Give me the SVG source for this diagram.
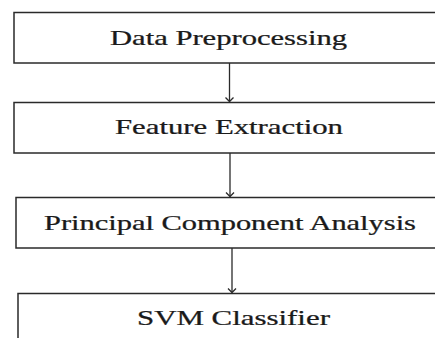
<svg xmlns="http://www.w3.org/2000/svg" width="435" height="338" viewBox="0 0 435 338">
<style>
.box{fill:#fff;stroke:#2a2a2a;stroke-width:1.5}
.lbl{font-family:"Liberation Serif","Times New Roman",serif;font-size:20px;fill:#1a1a1a;stroke:#1a1a1a;stroke-width:0.25}
.con{stroke:#2a2a2a;stroke-width:1.3;fill:none}
</style>
<defs>
<marker id="ah" markerWidth="10" markerHeight="10" refX="5" refY="5" orient="auto" markerUnits="userSpaceOnUse" viewBox="0 0 10 10">
<path d="M1,1 L5,5 L1,9" fill="none" stroke="#2a2a2a" stroke-width="1.3"/>
</marker>
</defs>
<rect width="435" height="338" fill="#fff"/>
<g id="n1"><rect class="box" x="14" y="12.5" width="440" height="50.5"/><text class="lbl" transform="translate(110,45) scale(1.53,1)" textLength="154.9" lengthAdjust="spacingAndGlyphs">Data Preprocessing</text></g>
<g id="n2"><rect class="box" x="14" y="102.5" width="440" height="50.5"/><text class="lbl" transform="translate(115,134) scale(1.53,1)" textLength="149" lengthAdjust="spacingAndGlyphs">Feature Extraction</text></g>
<g id="n3"><rect class="box" x="16" y="197.5" width="440" height="50.5"/><text class="lbl" transform="translate(44,230) scale(1.53,1)" textLength="243.1" lengthAdjust="spacingAndGlyphs">Principal Component Analysis</text></g>
<g id="n4"><rect class="box" x="18" y="293.5" width="440" height="60"/><text class="lbl" transform="translate(137,325) scale(1.53,1)" textLength="126.1" lengthAdjust="spacingAndGlyphs">SVM Classifier</text></g>
<g id="connectors">
<line class="con" x1="229.5" y1="63" x2="229.5" y2="101.5" marker-end="url(#ah)"/>
<line class="con" x1="230" y1="153" x2="230" y2="196.5" marker-end="url(#ah)"/>
<line class="con" x1="232" y1="248" x2="232" y2="292.5" marker-end="url(#ah)"/>
</g>
</svg>
